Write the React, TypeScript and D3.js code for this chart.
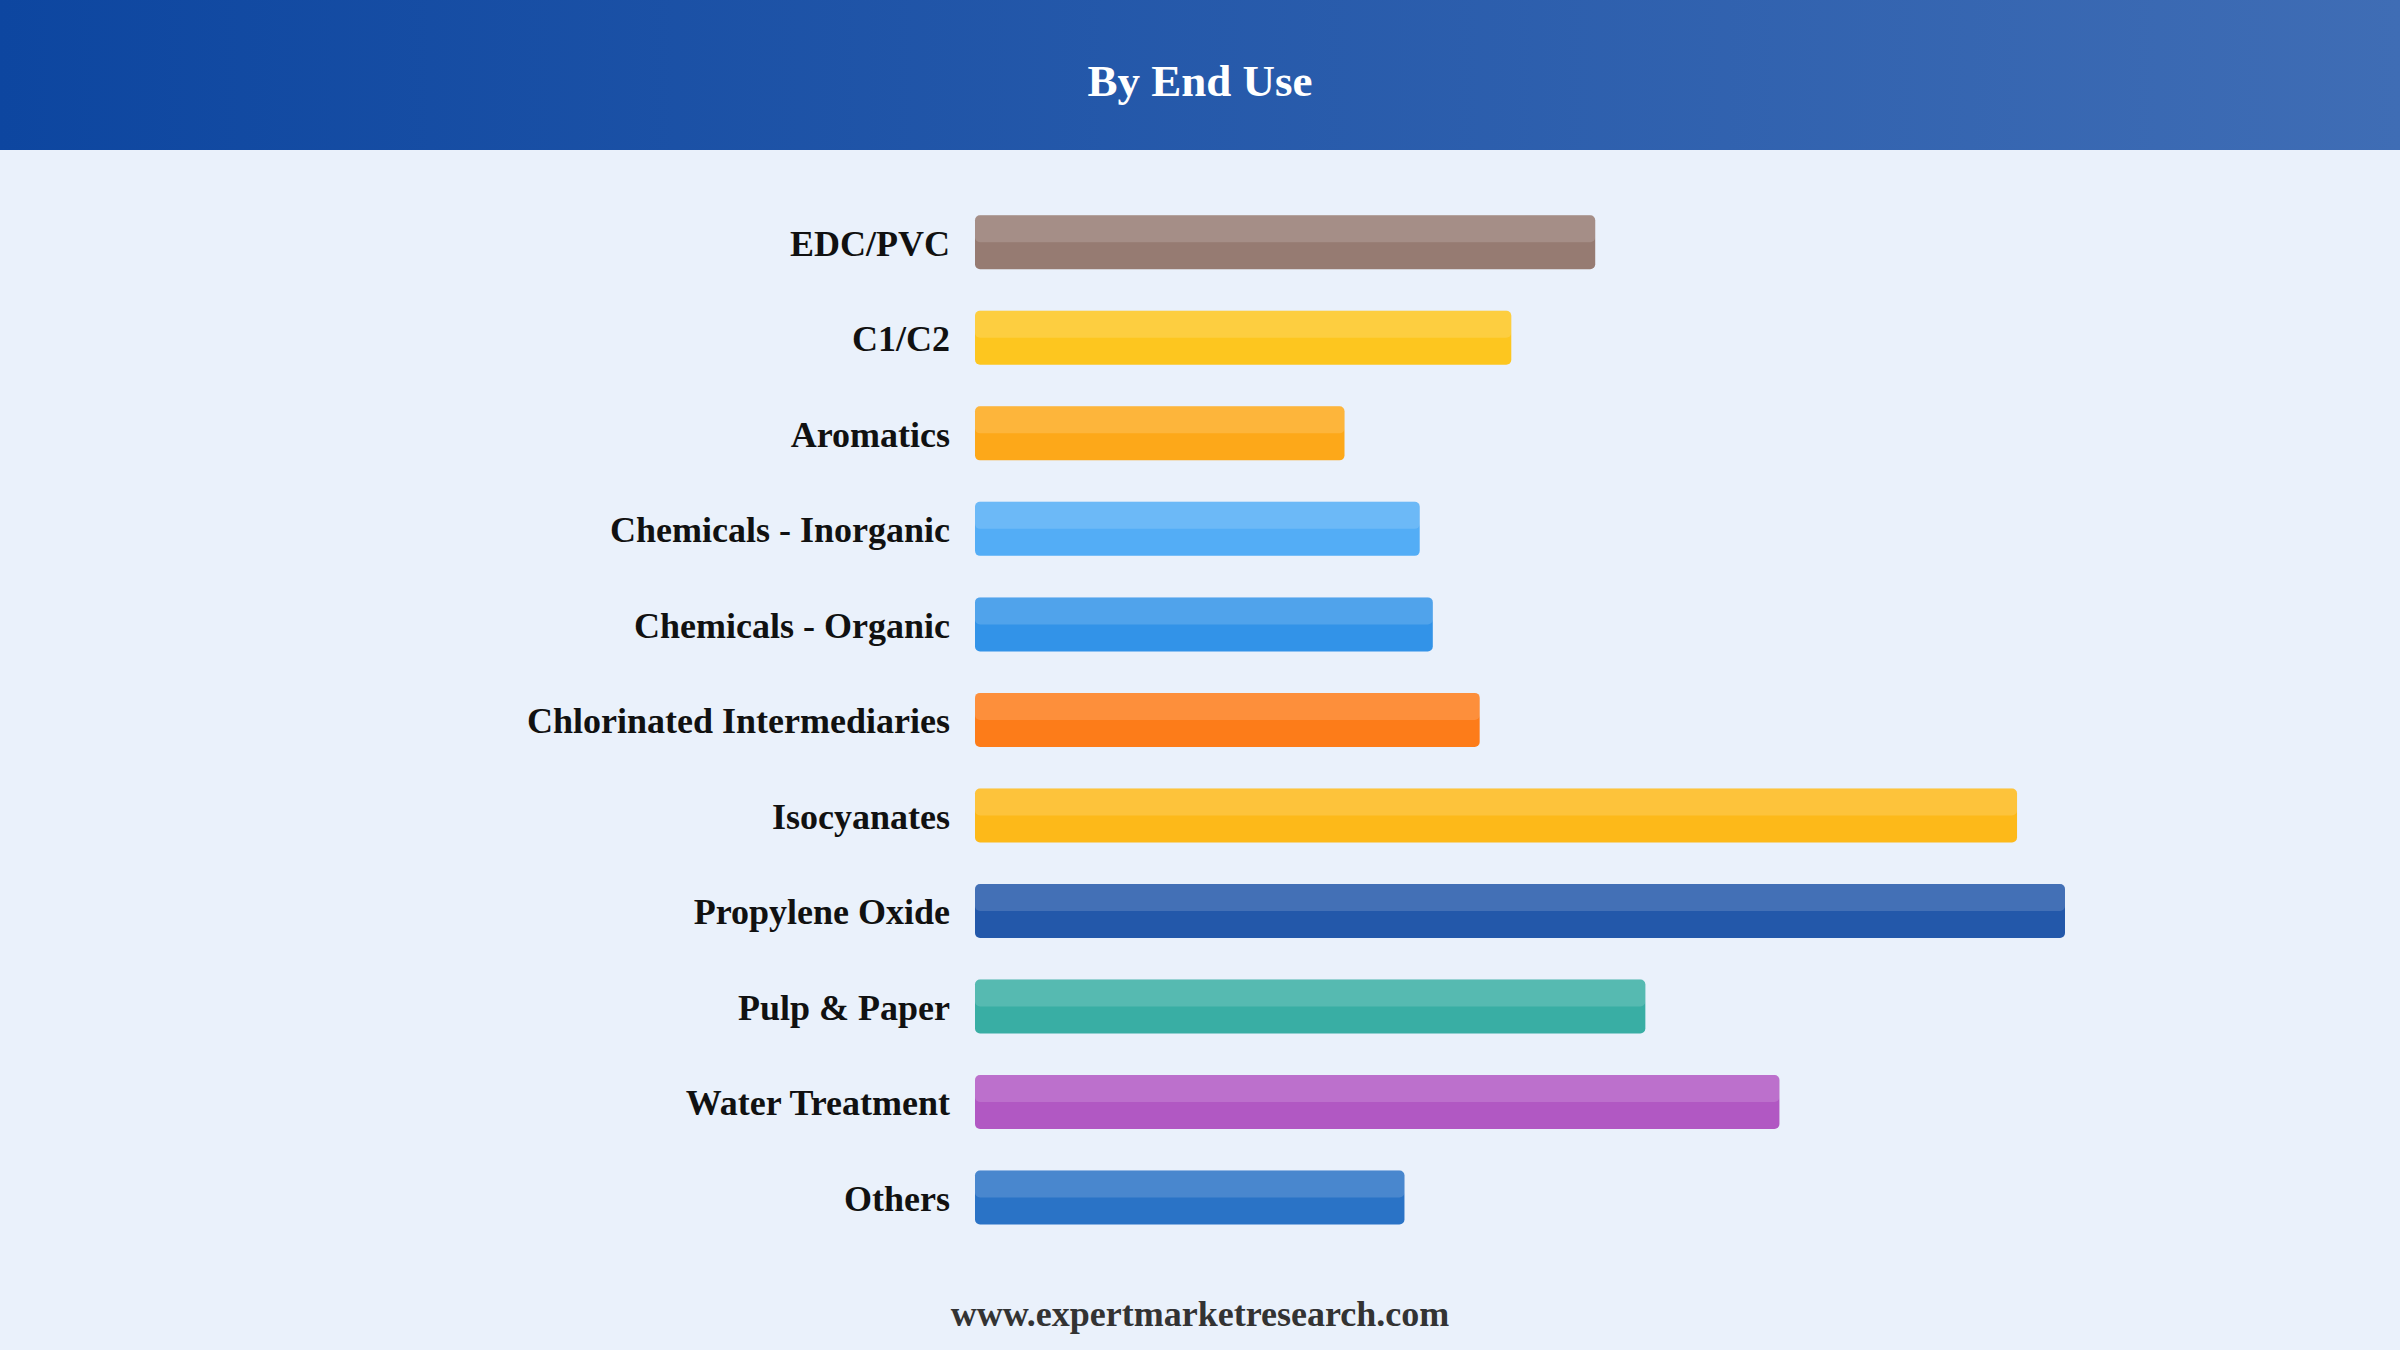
import React from "react";
import * as d3 from "d3";

const categories = [
  "EDC/PVC",
  "C1/C2",
  "Aromatics",
  "Chemicals - Inorganic",
  "Chemicals - Organic",
  "Chlorinated Intermediaries",
  "Isocyanates",
  "Propylene Oxide",
  "Pulp & Paper",
  "Water Treatment",
  "Others",
];
const values = [56.9, 49.2, 33.9, 40.8, 42.0, 46.3, 95.6, 100, 61.5, 73.8, 39.4];
const colors = [
  "#8D6E63",
  "#FFC107",
  "#FFA000",
  "#42A5F5",
  "#1E88E5",
  "#FF6F00",
  "#FFB300",
  "#0D47A1",
  "#26A69A",
  "#AB47BC",
  "#1565C0",
];
const title = "By End Use";
const footer = "www.expertmarketresearch.com";

const W = 2400;
const H = 1350;
const FONT = "'Liberation Serif', 'Times New Roman', serif";

export default function App() {
  const x = d3.scaleLinear().domain([0, 100]).range([975, 2065]);
  const y = d3.scalePoint<string>().domain(categories).range([242.3, 1197.5]);
  const barH = 54;

  return (
    <svg
      width={W}
      height={H}
      viewBox={`0 0 ${W} ${H}`}
      style={{ position: "absolute", left: 0, top: 0, display: "block" }}
    >
      <defs>
        <linearGradient id="hdr" x1="0" y1="0" x2="1" y2="0">
          <stop offset="0%" stopColor="#0D46A0" />
          <stop offset="100%" stopColor="#3F6DB5" />
        </linearGradient>
      </defs>
      <rect x={0} y={0} width={W} height={H} fill="#EAF1FB" />
      <rect x={0} y={0} width={W} height={150} fill="url(#hdr)" />
      <text
        x={W / 2}
        y={96}
        textAnchor="middle"
        fill="#ffffff"
        fontFamily={FONT}
        fontWeight="bold"
        fontSize={45}
      >
        {title}
      </text>
      {categories.map((c, i) => {
        const cy = y(c) as number;
        const x0 = x(0);
        const w = x(values[i]) - x0;
        return (
          <g key={c}>
            <text
              x={950}
              y={cy + 13.5}
              textAnchor="end"
              fill="#111111"
              fontFamily={FONT}
              fontWeight="bold"
              fontSize={36}
            >
              {c}
            </text>
            <rect
              x={x0}
              y={cy - barH / 2}
              width={w}
              height={barH}
              rx={5}
              ry={5}
              fill={colors[i]}
              fillOpacity={0.9}
            />
            <rect
              x={x0}
              y={cy - barH / 2}
              width={w}
              height={barH / 2}
              rx={5}
              ry={5}
              fill="#ffffff"
              fillOpacity={0.15}
            />
          </g>
        );
      })}
      <text
        x={W / 2}
        y={1326}
        textAnchor="middle"
        fill="#333333"
        fontFamily={FONT}
        fontWeight="bold"
        fontSize={36}
      >
        {footer}
      </text>
    </svg>
  );
}
